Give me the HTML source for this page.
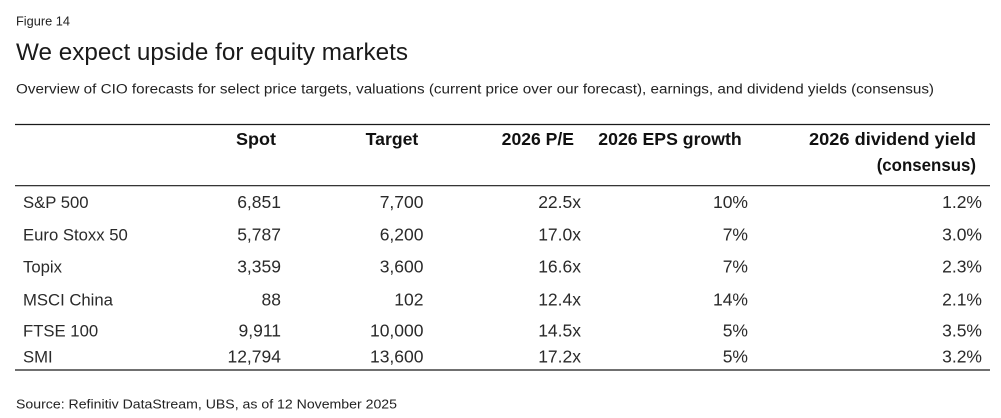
<!DOCTYPE html>
<html>
<head>
<meta charset="utf-8">
<style>
  html,body{margin:0;padding:0;background:#fff;}
  svg{display:block;}
  text{font-family:"Liberation Sans",Arial,sans-serif;}
  .d{font-size:17.5px;fill:#2a2a2a;text-anchor:end;}
  .n{font-size:16.7px;fill:#2a2a2a;}
  .h{font-size:17.5px;font-weight:bold;fill:#111;text-anchor:end;}
</style>
</head>
<body>
<svg width="1001" height="418" viewBox="0 0 1001 418" xmlns="http://www.w3.org/2000/svg">
  <rect width="1001" height="418" fill="#fff"/>
  <text x="16" y="25.7" font-size="12.5" fill="#222" textLength="54" lengthAdjust="spacingAndGlyphs">Figure 14</text>
  <text x="16" y="60" font-size="24" fill="#1a1a1a" textLength="392" lengthAdjust="spacingAndGlyphs">We expect upside for equity markets</text>
  <text x="16" y="93.3" font-size="13.5" fill="#222" textLength="918" lengthAdjust="spacingAndGlyphs">Overview of CIO forecasts for select price targets, valuations (current price over our forecast), earnings, and dividend yields (consensus)</text>

  <line x1="15" y1="124.5" x2="990" y2="124.5" stroke="#1a1a1a" stroke-width="1.2"/>
  <line x1="15" y1="185.7" x2="990" y2="185.7" stroke="#1a1a1a" stroke-width="1.2"/>
  <line x1="15" y1="370" x2="990" y2="370" stroke="#1a1a1a" stroke-width="1.2"/>

  <!-- headers -->
  <text class="h" x="276" y="145" textLength="40" lengthAdjust="spacingAndGlyphs">Spot</text>
  <text class="h" x="418.3" y="145" textLength="52.6" lengthAdjust="spacingAndGlyphs">Target</text>
  <text class="h" x="574" y="145" textLength="72.3" lengthAdjust="spacingAndGlyphs">2026 P/E</text>
  <text class="h" x="741.7" y="145" textLength="143.4" lengthAdjust="spacingAndGlyphs">2026 EPS growth</text>
  <text class="h" x="976" y="145" textLength="167" lengthAdjust="spacingAndGlyphs">2026 dividend yield</text>
  <text class="h" x="976" y="171" textLength="99.3" lengthAdjust="spacingAndGlyphs">(consensus)</text>

  <!-- rows -->
  <g>
    <text class="n" x="23" y="208">S&amp;P 500</text>
    <text class="d" x="281" y="208">6,851</text>
    <text class="d" x="423.5" y="208">7,700</text>
    <text class="d" x="581" y="208">22.5x</text>
    <text class="d" x="748" y="208">10%</text>
    <text class="d" x="982" y="208">1.2%</text>
  </g>
  <g>
    <text class="n" x="23" y="240.5">Euro Stoxx 50</text>
    <text class="d" x="281" y="240.5">5,787</text>
    <text class="d" x="423.5" y="240.5">6,200</text>
    <text class="d" x="581" y="240.5">17.0x</text>
    <text class="d" x="748" y="240.5">7%</text>
    <text class="d" x="982" y="240.5">3.0%</text>
  </g>
  <g>
    <text class="n" x="23" y="272.5">Topix</text>
    <text class="d" x="281" y="272.5">3,359</text>
    <text class="d" x="423.5" y="272.5">3,600</text>
    <text class="d" x="581" y="272.5">16.6x</text>
    <text class="d" x="748" y="272.5">7%</text>
    <text class="d" x="982" y="272.5">2.3%</text>
  </g>
  <g>
    <text class="n" x="23" y="305.5">MSCI China</text>
    <text class="d" x="281" y="305.5">88</text>
    <text class="d" x="423.5" y="305.5">102</text>
    <text class="d" x="581" y="305.5">12.4x</text>
    <text class="d" x="748" y="305.5">14%</text>
    <text class="d" x="982" y="305.5">2.1%</text>
  </g>
  <g>
    <text class="n" x="23" y="336.5">FTSE 100</text>
    <text class="d" x="281" y="336.5">9,911</text>
    <text class="d" x="423.5" y="336.5">10,000</text>
    <text class="d" x="581" y="336.5">14.5x</text>
    <text class="d" x="748" y="336.5">5%</text>
    <text class="d" x="982" y="336.5">3.5%</text>
  </g>
  <g>
    <text class="n" x="23" y="362.5">SMI</text>
    <text class="d" x="281" y="362.5">12,794</text>
    <text class="d" x="423.5" y="362.5">13,600</text>
    <text class="d" x="581" y="362.5">17.2x</text>
    <text class="d" x="748" y="362.5">5%</text>
    <text class="d" x="982" y="362.5">3.2%</text>
  </g>

  <text x="16" y="408.3" font-size="12.5" fill="#222" textLength="381" lengthAdjust="spacingAndGlyphs">Source: Refinitiv DataStream, UBS, as of 12 November 2025</text>
</svg>
</body>
</html>
